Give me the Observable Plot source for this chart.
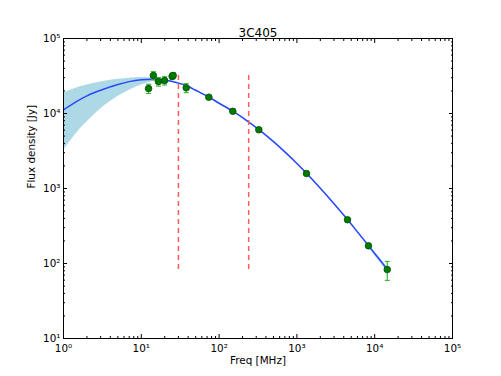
<!DOCTYPE html>
<html><head><meta charset="utf-8">
<script src="https://cdn.jsdelivr.net/npm/d3@7"></script>
<script src="https://cdn.jsdelivr.net/npm/@observablehq/plot@0.6"></script>
<style>html,body{margin:0;padding:0;background:#fff}</style>
</head><body><div id="chart"></div>
<script>
const title = "3C405";
const xLabel = "Freq [MHz]";
const yLabel = "Flux density [Jy]";

// observed points
const obsFreq = [12.4, 14.3, 16.6, 19.9, 24.9, 25.7, 37.8, 73.8, 150, 324, 1328, 4470, 8320, 14500];
const obsFlux = [21500, 32100, 26700, 27500, 31400, 32100, 22000, 16500, 10700, 6070, 1585, 383, 172, 83];
const obsErr  = [3000, 4000, 3500, 3500, 3000, 3000, 3000, 800, 500, 300, 80, 20, 12, 23.5];

// fitted model curve and its confidence band
const fitFreq = [1, 1.5, 2, 3, 5, 7, 10, 15, 20, 30, 40, 50, 74, 100, 150, 200, 324, 500, 700, 1000, 1328, 2000, 3000, 4470, 6000, 8320, 11000, 14500];
const fitFlux = [11200, 14600, 17200, 20400, 24300, 26600, 28100, 28500, 27900, 25400, 22900, 20400, 16500, 13700, 10750, 8800, 6100, 4220, 3080, 2160, 1600, 1010, 628, 386, 264, 173, 120, 84];
const fitLo   = [3200, 5600, 7700, 11500, 16800, 20400, 24000, 27000, 27000, 24800, 22400, 20000, 16200, 13450, 10550, 8640, 5990, 4140, 3020, 2115, 1565, 985, 612, 376, 255, 165, 112, 78];
const fitHi   = [18700, 22000, 24000, 26400, 28700, 29600, 30200, 29600, 28700, 26000, 23400, 20800, 16800, 13950, 10950, 8960, 6210, 4300, 3140, 2205, 1635, 1035, 644, 396, 273, 181, 128, 90];

// frequency cuts (dashed lines)
const cutFreq = [30, 240];

// axes
const xMajor = [1, 10, 100, 1000, 10000, 100000];
const xTickLabels = ["10⁰", "10¹", "10²", "10³", "10⁴", "10⁵"];
const yMajor = [10, 100, 1000, 10000, 100000];
const yTickLabels = ["10¹", "10²", "10³", "10⁴", "10⁵"];

function minorOf(majors) {
  const out = [];
  for (let i = 0; i < majors.length - 1; i++)
    for (let m = 2; m <= 9; m++) out.push(majors[i] * m);
  return out;
}
const xMinor = minorOf(xMajor);
const yMinor = minorOf(yMajor);

const obs = obsFreq.map((f, i) => ({freq: f, flux: obsFlux[i], lo: obsFlux[i] - obsErr[i], hi: obsFlux[i] + obsErr[i]}));
const fit = fitFreq.map((f, i) => ({freq: f, flux: fitFlux[i], lo: fitLo[i], hi: fitHi[i]}));
const fluxMin = d3.min(obsFlux), fluxMax = d3.max(obsFlux);

const capSymbol = {draw(ctx, size) { const r = Math.sqrt(size / Math.PI); ctx.moveTo(-r, 0); ctx.lineTo(r, 0); }};
const blank = () => "";

const fs = 10.4;
const chart = Plot.plot({
  width: 501, height: 376,
  marginLeft: 63, marginRight: 49, marginTop: 38, marginBottom: 38,
  x: {type: "log", domain: [1, 1e5]},
  y: {type: "log", domain: [10, 1e5]},
  style: {fontFamily: "'DejaVu Sans', sans-serif", fontSize: fs + "px", background: "#fff", color: "#000"},
  marks: [
    Plot.areaY(fit, {x: "freq", y1: "lo", y2: "hi", fill: "#add8e6", curve: "catmull-rom"}),
    Plot.line(fit, {x: "freq", y: "flux", stroke: "#2a47ff", strokeWidth: 1.5, curve: "catmull-rom"}),
    Plot.ruleX(cutFreq, {x: d => d, y1: fluxMin, y2: fluxMax, stroke: "#ff5c5c", strokeWidth: 1.5, strokeDasharray: "5,4"}),
    Plot.ruleX(obs, {x: "freq", y1: "lo", y2: "hi", stroke: "#3cb83c", strokeWidth: 1.2}),
    Plot.dot(obs, {x: "freq", y: "lo", symbol: capSymbol, r: 2.5, stroke: "#3cb83c", strokeWidth: 1.2}),
    Plot.dot(obs, {x: "freq", y: "hi", symbol: capSymbol, r: 2.5, stroke: "#3cb83c", strokeWidth: 1.2}),
    Plot.dot(obs, {x: "freq", y: "flux", r: 3.3, fill: "#007a00", stroke: "#004d00", strokeWidth: 0.8}),
    Plot.frame({stroke: "#000", strokeWidth: 1}),
    // inward ticks on all sides
    Plot.axisX(xMajor, {anchor: "bottom", tickSize: -4, tickFormat: blank, label: null}),
    Plot.axisX(xMinor, {anchor: "bottom", tickSize: -2, tickFormat: blank, label: null}),
    Plot.axisX(xMajor, {anchor: "top", tickSize: -4, tickFormat: blank, label: null}),
    Plot.axisX(xMinor, {anchor: "top", tickSize: -2, tickFormat: blank, label: null}),
    Plot.axisY(yMajor, {anchor: "left", tickSize: -4, tickFormat: blank, label: null}),
    Plot.axisY(yMinor, {anchor: "left", tickSize: -2, tickFormat: blank, label: null}),
    Plot.axisY(yMajor, {anchor: "right", tickSize: -4, tickFormat: blank, label: null}),
    Plot.axisY(yMinor, {anchor: "right", tickSize: -2, tickFormat: blank, label: null}),
    // tick labels
    Plot.axisX(xMajor, {anchor: "bottom", tickSize: 0, tickPadding: 6, tickFormat: d => xTickLabels[xMajor.indexOf(d)], label: null, fontSize: fs}),
    Plot.axisY(yMajor, {anchor: "left", tickSize: 0, tickPadding: 3, tickFormat: d => yTickLabels[yMajor.indexOf(d)], label: null, fontSize: fs}),
    // labels and title
    Plot.text([xLabel], {frameAnchor: "bottom", dy: 25, fontSize: fs, fill: "#000"}),
    Plot.text([yLabel], {frameAnchor: "left", dx: -32, rotate: -90, fontSize: fs, fill: "#000"}),
    Plot.text([title], {frameAnchor: "top", dy: -10, fontSize: 12, fill: "#000"})
  ]
});
document.getElementById("chart").appendChild(chart);
</script>
</body></html>
